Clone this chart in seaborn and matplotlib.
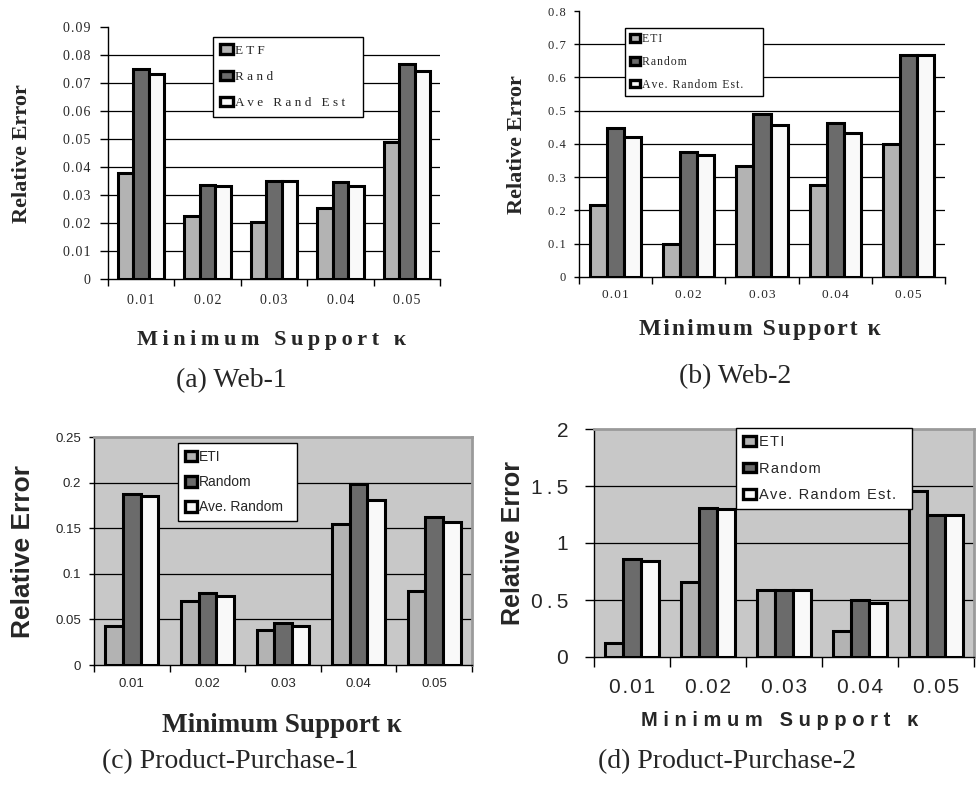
import numpy as np
import pandas as pd
import matplotlib
matplotlib.use("Agg")
import matplotlib.pyplot as plt
from matplotlib.patches import Patch
import seaborn as sns

# ---- data -------------------------------------------------------------
kappa = ["0.01", "0.02", "0.03", "0.04", "0.05"]

web1_labels = ["ETF", "Rand", "Ave Rand Est"]
web1_etf = [0.038, 0.0224, 0.0204, 0.0254, 0.0488]
web1_rand = [0.075, 0.0337, 0.0349, 0.0346, 0.0769]
web1_ave = [0.0732, 0.0331, 0.0349, 0.0331, 0.0742]
web1_yticks = [0, 0.01, 0.02, 0.03, 0.04, 0.05, 0.06, 0.07, 0.08, 0.09]

web2_labels = ["ETI", "Random", "Ave. Random Est."]
web2_eti = [0.216, 0.098, 0.334, 0.277, 0.399]
web2_random = [0.449, 0.375, 0.490, 0.462, 0.669]
web2_ave = [0.421, 0.366, 0.456, 0.432, 0.669]
web2_yticks = [0, 0.1, 0.2, 0.3, 0.4, 0.5, 0.6, 0.7, 0.8]

pp1_labels = ["ETI", "Random", "Ave. Random"]
pp1_eti = [0.043, 0.0705, 0.038, 0.155, 0.081]
pp1_random = [0.187, 0.079, 0.0456, 0.198, 0.162]
pp1_ave = [0.185, 0.0755, 0.043, 0.181, 0.157]
pp1_yticks = [0, 0.05, 0.1, 0.15, 0.2, 0.25]

pp2_labels = ["ETI", "Random", "Ave. Random Est."]
pp2_eti = [0.126, 0.654, 0.587, 0.227, 1.457]
pp2_random = [0.859, 1.305, 0.592, 0.504, 1.246]
pp2_ave = [0.842, 1.296, 0.584, 0.478, 1.246]
pp2_yticks = [0, 0.5, 1, 1.5, 2]

captions = ["(a) Web-1", "(b) Web-2", "(c) Product-Purchase-1", "(d) Product-Purchase-2"]
xlabel_text = "Minimum Support \u03ba"
ylabel_text = "Relative Error"

# ---- style ------------------------------------------------------------
sns.set_theme(style="white")
SERIF = ["Liberation Serif", "DejaVu Serif"]
SANS = ["Liberation Sans", "DejaVu Sans"]
plt.rcParams["font.family"] = SERIF

BAR_COLORS = ["#b3b3b3", "#6b6b6b", "#f9f9f9"]
W, H = 979, 795
THIN, HAIR = "\u2009", "\u200a"


def spread(text, gap):
    return gap.join(text) if gap else text


fig = plt.figure(figsize=(W / 100, H / 100), dpi=100)
fig.patch.set_facecolor("white")


def panel(box, series, labels, yticks, face, st):
    l, r, t, b = box
    ax = fig.add_axes([l / W, 1 - b / H, (r - l) / W, (b - t) / H])
    df = pd.DataFrame({
        "kappa": kappa * len(series),
        "series": [lab for lab in labels for _ in kappa],
        "value": [v for s in series for v in s],
    })
    sns.barplot(data=df, x="kappa", y="value", hue="series", order=kappa,
                hue_order=labels, palette=BAR_COLORS, saturation=1,
                width=0.7, edgecolor="black", linewidth=2.2, legend=False,
                ax=ax, zorder=3)
    ax.set_xlim(-0.5, len(kappa) - 0.5)
    ax.set_ylim(yticks[0], yticks[-1])
    ax.set_facecolor(face)
    ax.set_xlabel("")
    ax.set_ylabel("")

    # horizontal rules between the bottom axis and the top of the plot area
    ax.hlines(yticks[1:-1], -0.5, len(kappa) - 0.5, color="black",
              lw=0.9, zorder=1)

    ax.set_yticks(yticks)
    ax.set_yticklabels([spread(f"{v:g}", st["ygap"]) for v in yticks],
                       fontsize=st["yfs"], family=st["tfam"])
    ax.tick_params(axis="y", direction="out", length=st["ylen"],
                   width=1, color="black", pad=st["ypad"], left=True)

    ax.set_xticks(range(len(kappa)))
    ax.set_xticklabels([spread(k, st["xgap"]) for k in kappa],
                       fontsize=st["xfs"], family=st["tfam"])
    ax.set_xticks(np.arange(-0.5, len(kappa), 1), minor=True)
    ax.tick_params(axis="x", which="major", length=0, pad=st["xpad"])
    ax.tick_params(axis="x", which="minor", direction="out",
                   length=st["xlen"], width=1, color="black", bottom=True)

    for side in ("left", "bottom"):
        ax.spines[side].set_color("black")
        ax.spines[side].set_linewidth(1.0)
    if st["frame"]:
        for side in ("top", "right"):
            ax.spines[side].set_color("#9a9a9a")
            ax.spines[side].set_linewidth(2.0)
    else:
        ax.spines["top"].set_visible(False)
        ax.spines["right"].set_visible(False)

    handles = [Patch(facecolor=c, edgecolor="black", linewidth=2.4,
                     label=spread(lab, st["lgap"]))
               for c, lab in zip(BAR_COLORS, labels)]
    x0, x1, y0, y1 = st["lbox"]
    hl, hh = st["lhandle"]
    leg = ax.legend(handles=handles, loc="upper left",
                    bbox_to_anchor=(x0 / W, 1 - y1 / H, (x1 - x0) / W, (y1 - y0) / H),
                    bbox_transform=fig.transFigure, mode="expand",
                    borderaxespad=0, fancybox=False, framealpha=1,
                    edgecolor="black", facecolor="white",
                    prop={"family": st["lfam"], "size": st["lfs"]},
                    handlelength=hl, handleheight=hh, handletextpad=0.15,
                    labelspacing=st["lsp"], borderpad=st["lpad"])
    leg.get_frame().set_linewidth(1.0)
    leg.set_zorder(10)

    yl = st["ylab"]
    fig.text(yl[0] / W, 1 - yl[1] / H, ylabel_text, rotation=90,
             ha="center", va="center", fontsize=st["ylfs"],
             fontweight="bold", family=st["ylfam"])
    xl = st["xlab"]
    fig.text(xl[0] / W, 1 - xl[1] / H, spread(xlabel_text, st["xlgap"]),
             ha="center", va="center", fontsize=st["xlfs"],
             fontweight="bold", family=st["xlfam"])
    cp = st["cap"]
    fig.text(cp[0] / W, 1 - cp[1] / H, st["caption"], ha="center",
             va="center", fontsize=20, family=SERIF)
    return ax


panel((108, 440, 27, 279), [web1_etf, web1_rand, web1_ave], web1_labels,
      web1_yticks, "white",
      dict(tfam=SERIF, yfs=10, xfs=10, ygap=HAIR, xgap=HAIR, ylen=5.8,
           ypad=7, xpad=11, xlen=5, frame=False,
           lgap=" ", lfam=SERIF, lfs=9.5, lsp=1.05, lpad=0.55,
           lhandle=(1.0, 0.75), lbox=(213, 363, 37, 118),
           ylab=(22, 154), ylfs=16, ylfam=SERIF,
           xlab=(272, 340), xlgap=THIN, xlfs=16, xlfam=SERIF,
           cap=(231, 381), caption=captions[0]))

panel((579, 945, 11, 277), [web2_eti, web2_random, web2_ave], web2_labels,
      web2_yticks, "white",
      dict(tfam=SERIF, yfs=9, xfs=9.5, ygap=HAIR, xgap=HAIR, ylen=3.6,
           ypad=5.8, xpad=8.6, xlen=5, frame=False,
           lgap=HAIR, lfam=SERIF, lfs=8.5, lsp=0.9, lpad=0.45,
           lhandle=(0.85, 0.6), lbox=(625, 763, 28, 98),
           ylab=(517, 145), ylfs=16, ylfam=SERIF,
           xlab=(760, 330), xlgap=HAIR, xlfs=17, xlfam=SERIF,
           cap=(735, 377), caption=captions[1]))

panel((94, 472, 437, 665), [pp1_eti, pp1_random, pp1_ave], pp1_labels,
      pp1_yticks, "#c8c8c8",
      dict(tfam=SANS, yfs=9.5, xfs=9.5, ygap="", xgap="", ylen=3.6,
           ypad=5.8, xpad=9.4, xlen=5, frame=True,
           lgap="", lfam=SANS, lfs=10, lsp=0.8, lpad=0.5,
           lhandle=(0.85, 0.8), lbox=(178, 297, 443, 522),
           ylab=(23, 551), ylfs=19, ylfam=SANS,
           xlab=(282, 725), xlgap="", xlfs=19.5, xlfam=SERIF,
           cap=(230, 762), caption=captions[2]))

panel((594, 974, 429, 657), [pp2_eti, pp2_random, pp2_ave], pp2_labels,
      pp2_yticks, "#c8c8c8",
      dict(tfam=SANS, yfs=15, xfs=15, ygap=THIN, xgap=HAIR, ylen=6.5,
           ypad=12, xpad=15, xlen=7, frame=True,
           lgap=HAIR, lfam=SANS, lfs=10.5, lsp=0.85, lpad=0.5,
           lhandle=(0.9, 0.65), lbox=(736, 912, 428, 508),
           ylab=(513, 543), ylfs=18, ylfam=SANS,
           xlab=(780, 720), xlgap=" ", xlfs=14.5, xlfam=SANS,
           cap=(727, 762), caption=captions[3]))

fig.savefig("out.png", dpi=100, facecolor="white")
